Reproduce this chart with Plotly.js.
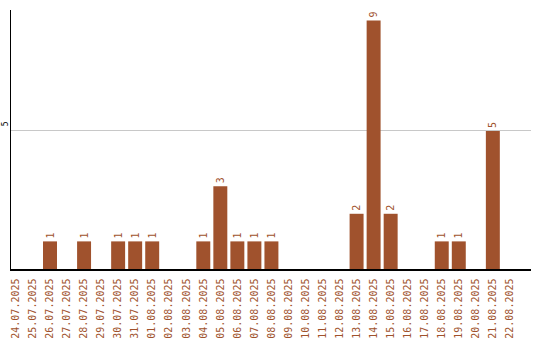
<!DOCTYPE html>
<html><head><meta charset="utf-8">
<script src="https://cdn.plot.ly/plotly-3.0.1.min.js"></script>
<style>html,body{margin:0;padding:0;background:#fff}#c{width:540px;height:340px}</style>
</head><body><div id="c"></div>
<script>
const dates = ["24.07.2025","25.07.2025","26.07.2025","27.07.2025","28.07.2025","29.07.2025","30.07.2025","31.07.2025","01.08.2025","02.08.2025","03.08.2025","04.08.2025","05.08.2025","06.08.2025","07.08.2025","08.08.2025","09.08.2025","10.08.2025","11.08.2025","12.08.2025","13.08.2025","14.08.2025","15.08.2025","16.08.2025","17.08.2025","18.08.2025","19.08.2025","20.08.2025","21.08.2025","22.08.2025"];
const counts = [0,0,1,0,1,0,1,1,1,0,0,1,3,1,1,1,0,0,0,0,2,9,2,0,0,1,1,0,5,0];
const yTicks = [5];

const color = '#A0522D';
const labels = counts.map(v => v > 0 ? String(v) : '');
const font = 'DejaVu Sans Mono, monospace';

Plotly.newPlot('c', [{
  type: 'bar',
  x: dates.map((d,i)=>i),
  y: counts,
  text: labels,
  textposition: 'outside',
  textangle: -90,
  cliponaxis: false,
  textfont: {family: font, size: 10, color: color},
  marker: {color: color, line: {width: 0}},
  width: 0.82,
  hoverinfo: 'none'
}], {
  width: 540, height: 340,
  margin: {l: 11, r: 9, t: 10, b: 71, pad: 0},
  paper_bgcolor: '#fff', plot_bgcolor: '#fff',
  showlegend: false,
  bargap: 0.18,
  xaxis: {
    tickmode: 'array', tickvals: dates.map((d,i)=>i), ticktext: dates,
    range: [-0.29, 30.24],
    tickangle: -90,
    tickfont: {family: font, size: 10, color: color},
    showline: true, linecolor: '#000', linewidth: 1.5,
    showgrid: false, zeroline: false,
    ticks: 'outside', ticklen: 4, tickcolor: 'rgba(0,0,0,0)'
  },
  yaxis: {
    range: [0, 9.38],
    tickmode: 'array', tickvals: yTicks, ticktext: yTicks.map(String),
    tickangle: -90,
    tickfont: {family: font, size: 8, color: '#000'},
    ticklabelstandoff: -2,
    ticklabelshift: -6,
    showline: true, linecolor: '#000', linewidth: 1.5,
    showgrid: true, gridcolor: '#c8c8c8', gridwidth: 1,
    zeroline: false,
    ticks: '', ticklen: 0
  }
}, {staticPlot: true, displayModeBar: false});
</script></body></html>
